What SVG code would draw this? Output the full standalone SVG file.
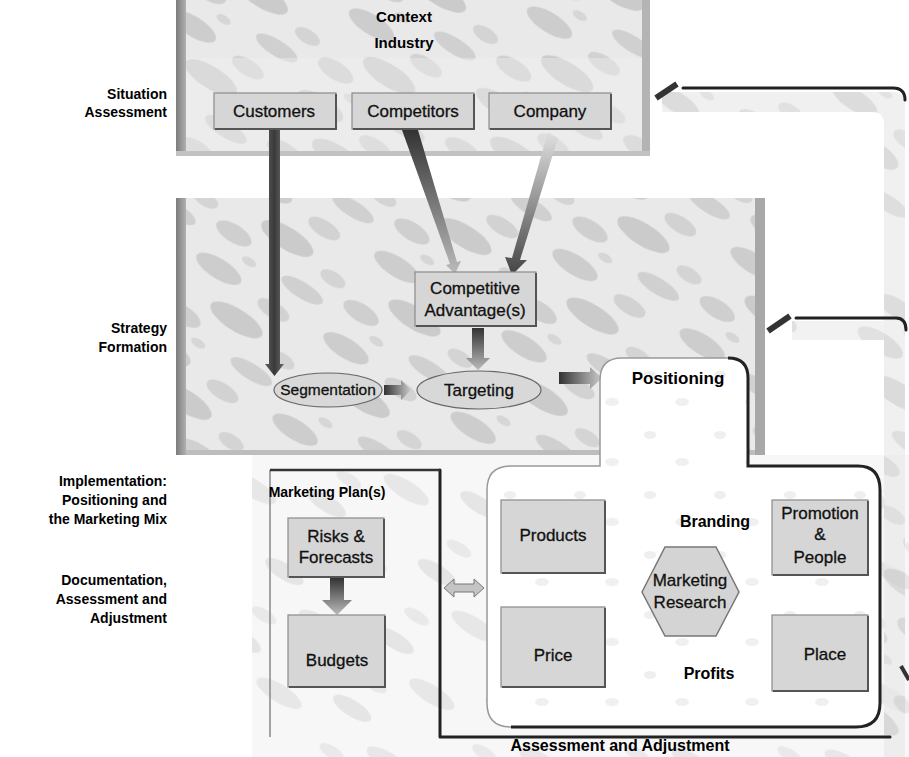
<svg xmlns="http://www.w3.org/2000/svg" width="909" height="757" viewBox="0 0 909 757">
  <defs>
    <!-- mottled halftone-like fill used for the stage panels -->
    <pattern id="mottle" width="150" height="96" patternUnits="userSpaceOnUse" patternTransform="rotate(32)">
      <rect width="150" height="96" fill="#e9e9e9"/>
      <ellipse cx="28" cy="16" rx="26" ry="10" fill="#cdcdcd"/>
      <ellipse cx="96" cy="22" rx="18" ry="8" fill="#d2d2d2"/>
      <ellipse cx="70" cy="50" rx="30" ry="11" fill="#cbcbcb"/>
      <ellipse cx="130" cy="60" rx="14" ry="7" fill="#d4d4d4"/>
      <ellipse cx="22" cy="74" rx="20" ry="9" fill="#cfcfcf"/>
      <ellipse cx="110" cy="86" rx="24" ry="8" fill="#d0d0d0"/>
      <ellipse cx="50" cy="90" rx="8" ry="4" fill="#d6d6d6"/>
    </pattern>
    <pattern id="faint" width="130" height="80" patternUnits="userSpaceOnUse" patternTransform="rotate(32)">
      <rect width="130" height="80" fill="#f7f7f7"/>
      <ellipse cx="24" cy="14" rx="22" ry="8" fill="#e5e5e5"/>
      <ellipse cx="84" cy="40" rx="26" ry="9" fill="#e7e7e7"/>
      <ellipse cx="30" cy="62" rx="14" ry="6" fill="#e9e9e9"/>
    </pattern>
    <pattern id="speck" width="70" height="60" patternUnits="userSpaceOnUse">
      <rect width="70" height="60" fill="#ffffff"/>
      <ellipse cx="20" cy="15" rx="6" ry="4" fill="#efefef"/>
      <ellipse cx="52" cy="42" rx="7" ry="4" fill="#f0f0f0"/>
    </pattern>
    <linearGradient id="shaftV" x1="0" y1="0" x2="1" y2="0">
      <stop offset="0" stop-color="#5a5a5a"/>
      <stop offset="0.5" stop-color="#3a3a3a"/>
      <stop offset="1" stop-color="#6a6a6a"/>
    </linearGradient>
    <linearGradient id="shaftDown" x1="0" y1="0" x2="0" y2="1">
      <stop offset="0" stop-color="#333"/>
      <stop offset="1" stop-color="#bbb"/>
    </linearGradient>
    <linearGradient id="shaftUp" x1="0" y1="0" x2="0" y2="1">
      <stop offset="0" stop-color="#e0e0e0"/>
      <stop offset="1" stop-color="#444"/>
    </linearGradient>
    <linearGradient id="shaftH" x1="0" y1="0" x2="1" y2="0">
      <stop offset="0" stop-color="#333"/>
      <stop offset="1" stop-color="#ccc"/>
    </linearGradient>
    <linearGradient id="edgeL" x1="0" y1="0" x2="1" y2="0">
      <stop offset="0" stop-color="#7c7c7c"/>
      <stop offset="1" stop-color="#b0b0b0"/>
    </linearGradient>
    <style>
      .lbl { font-family: "Liberation Sans", Arial, sans-serif; font-weight: bold; font-size: 14px; fill: #000; text-anchor: end; }
      .hd { font-family: "Liberation Sans", Arial, sans-serif; font-weight: bold; font-size: 15px; fill: #000; text-anchor: middle; }
      .nt { font-family: "Liberation Sans", Arial, sans-serif; font-size: 17px; fill: #111; stroke: #111; stroke-width: 0.3; text-anchor: middle; }
      .box { fill: #d6d6d6; stroke: #8a8a8a; stroke-width: 1.2; }
      .boxsh { fill: none; stroke: #555; stroke-width: 2; }
      .oval { fill: #d8d8d8; stroke: #666; stroke-width: 1.2; }
      .thin { fill: none; stroke: #222; stroke-width: 3; stroke-linecap: round; stroke-linejoin: round; }
    </style>
  </defs>

  <rect width="909" height="757" fill="#ffffff"/>

  <!-- lower backdrop behind the implementation area -->
  <rect x="252" y="455" width="657" height="302" fill="url(#faint)"/>

  <!-- right-hand feedback channel -->
  <g id="feedback-channel">
    <path d="M662 92 H893 Q905 92 905 104 V757 H884 V124 Q884 112 872 112 H662 Z" fill="url(#mottle)" opacity="0.7"/>
    <path d="M792 321 H884 V340 H792 Z" fill="url(#mottle)" opacity="0.6"/>
  </g>

  <!-- Situation assessment panel -->
  <g id="situation-panel">
    <rect x="176" y="0" width="474" height="156" fill="url(#mottle)"/>
    <rect x="176" y="0" width="10" height="156" fill="url(#edgeL)"/>
    <rect x="642" y="0" width="8" height="156" fill="#b4b4b4"/>
    <rect x="176" y="151" width="474" height="5" fill="#c2c2c2"/>
    <rect x="186" y="58" width="456" height="93" fill="#efefef" opacity="0.4"/>
    <text class="hd" x="404" y="22">Context</text>
    <text class="hd" x="404" y="48">Industry</text>
  </g>

  <!-- Strategy formation panel -->
  <g id="strategy-panel">
    <rect x="176" y="198" width="589" height="257" fill="url(#mottle)"/>
    <rect x="176" y="198" width="10" height="257" fill="url(#edgeL)"/>
    <rect x="755" y="198" width="10" height="257" fill="#a8a8a8"/>
    <rect x="186" y="450" width="569" height="5" fill="#bdbdbd"/>
  </g>

  <!-- Stage labels -->
  <g id="stage-labels">
    <text class="lbl" x="167" y="99">Situation</text>
    <text class="lbl" x="167" y="117">Assessment</text>
    <text class="lbl" x="167" y="333">Strategy</text>
    <text class="lbl" x="167" y="352">Formation</text>
    <text class="lbl" x="167" y="486">Implementation:</text>
    <text class="lbl" x="167" y="505">Positioning and</text>
    <text class="lbl" x="167" y="524">the Marketing Mix</text>
    <text class="lbl" x="167" y="585">Documentation,</text>
    <text class="lbl" x="167" y="604">Assessment and</text>
    <text class="lbl" x="167" y="623">Adjustment</text>
  </g>

  <!-- Context nodes -->
  <g id="customers">
    <rect class="box" x="214" y="93" width="122" height="36"/>
    <path class="boxsh" d="M336 94 V129 H215"/>
    <text class="nt" x="274" y="117">Customers</text>
  </g>
  <g id="competitors">
    <rect class="box" x="352" y="93" width="122" height="36"/>
    <path class="boxsh" d="M474 94 V129 H353"/>
    <text class="nt" x="413" y="117">Competitors</text>
  </g>
  <g id="company">
    <rect class="box" x="489" y="93" width="122" height="36"/>
    <path class="boxsh" d="M611 94 V129 H490"/>
    <text class="nt" x="550" y="117">Company</text>
  </g>

  <!-- Flow arrows -->
  <g id="connectors">
    <!-- Customers to Segmentation -->
    <path d="M269 130 H280 V364 L284 364 L274.5 376 L265 364 L269 364 Z" fill="url(#shaftV)"/>
    <!-- Competitors to Competitive Advantage(s) -->
    <path d="M402 130 L418 130 L457 262 L461 261 L455 274 L446 265 L450 264 Z" fill="url(#shaftDown)"/>
    <!-- Company to Competitive Advantage(s) -->
    <path d="M548 132 L558 138 L520 260 L527 260 L512 275 L505 257 L512 258 Z" fill="url(#shaftUp)"/>
    <!-- Competitive Advantage(s) to Targeting -->
    <path d="M472 328 H484 V358 H490 L478 370 L466 358 H472 Z" fill="url(#shaftDown)"/>
    <!-- Segmentation to Targeting -->
    <path d="M384 385 H401 V380 L411 390 L401 400 V395 H384 Z" fill="url(#shaftH)"/>
    <!-- Targeting to Positioning -->
    <path d="M559 372 H590 V367 L602 378 L590 389 V384 H559 Z" fill="url(#shaftH)"/>
    <!-- Risks & Forecasts to Budgets -->
    <path d="M330 578 H344 V600 H352 L337 615 L322 600 H330 Z" fill="url(#shaftDown)"/>
    <!-- Marketing plan to marketing mix (two-way) -->
    <path d="M444 588 L454 579 V584 H474 V579 L484 588 L474 597 V592 H454 V597 Z" fill="#c4c4c4" stroke="#777" stroke-width="1"/>
    <!-- feedback lines -->
    <line x1="656" y1="98" x2="677" y2="84" stroke="#333" stroke-width="6"/>
    <path class="thin" d="M683 88 H893 Q905 88 905 100"/>
    <line x1="768" y1="331" x2="790" y2="316" stroke="#333" stroke-width="6"/>
    <path class="thin" d="M796 318 H896 Q906 318 906 330"/>
    <line x1="901" y1="666" x2="909" y2="680" stroke="#333" stroke-width="4"/>
    <!-- assessment and adjustment rule -->
    <path class="thin" d="M440 470 V737 H890"/>
  </g>

  <!-- Competitive advantage -->
  <g id="competitive-advantage">
    <rect class="box" x="415" y="272" width="121" height="54" fill="#d9d9d9"/>
    <path class="boxsh" d="M536 273 V326 H416"/>
    <text class="nt" x="475" y="294">Competitive</text>
    <text class="nt" x="475" y="316">Advantage(s)</text>
  </g>

  <g id="segmentation">
    <ellipse class="oval" cx="328" cy="390" rx="54" ry="17"/>
    <text class="nt" x="328" y="395" style="font-size:15.5px">Segmentation</text>
  </g>
  <g id="targeting">
    <ellipse class="oval" cx="479" cy="390" rx="62" ry="19"/>
    <text class="nt" x="479" y="396">Targeting</text>
  </g>

  <!-- Positioning and the marketing mix -->
  <g id="positioning">
    <path d="M600 380 Q600 358 622 358 H728 Q748 358 748 378 V466 H858 Q880 466 880 490 V703 Q880 727 856 727 H511 Q487 727 487 703 V490 Q487 466 511 466 H600 Z" fill="url(#speck)" stroke="#999" stroke-width="1.5"/>
    <path d="M728 358 Q748 358 748 378 V466 H858 Q880 466 880 490 V703 Q880 727 856 727 H511" fill="none" stroke="#222" stroke-width="3"/>
    <text class="hd" x="678" y="384" style="font-size:17px">Positioning</text>
    <text class="hd" x="715" y="527" style="font-size:16px">Branding</text>
    <text class="hd" x="709" y="679" style="font-size:16px">Profits</text>
  </g>
  <g id="products">
    <rect class="box" x="501" y="500" width="104" height="73"/>
    <path class="boxsh" d="M605 501 V573 H502"/>
    <text class="nt" x="553" y="541">Products</text>
  </g>
  <g id="price">
    <rect class="box" x="501" y="607" width="104" height="80"/>
    <path class="boxsh" d="M605 608 V687 H502"/>
    <text class="nt" x="553" y="661">Price</text>
  </g>
  <g id="promotion-people">
    <rect class="box" x="772" y="500" width="96" height="75"/>
    <path class="boxsh" d="M868 501 V575 H773"/>
    <text class="nt" x="820" y="519">Promotion</text>
    <text class="nt" x="820" y="540">&amp;</text>
    <text class="nt" x="820" y="563">People</text>
  </g>
  <g id="place">
    <rect class="box" x="772" y="615" width="96" height="76"/>
    <path class="boxsh" d="M868 616 V691 H773"/>
    <text class="nt" x="825" y="660">Place</text>
  </g>
  <g id="marketing-research">
    <polygon points="642,592 665,547 716,547 739,592 716,636 665,636" fill="#d4d4d4" stroke="#777" stroke-width="1.5"/>
    <text class="nt" x="690" y="586">Marketing</text>
    <text class="nt" x="690" y="608">Research</text>
  </g>

  <!-- Marketing plan -->
  <g id="marketing-plan">
    <path d="M270 737 V470" fill="none" stroke="#888" stroke-width="1.5"/>
    <path d="M270 470 H440" fill="none" stroke="#333" stroke-width="2.5"/>
    <text class="hd" x="327" y="497" style="font-size:14px">Marketing Plan(s)</text>
  </g>
  <g id="risks-forecasts">
    <rect class="box" x="288" y="518" width="96" height="59"/>
    <path class="boxsh" d="M384 519 V577 H289"/>
    <text class="nt" x="336" y="542">Risks &amp;</text>
    <text class="nt" x="336" y="563">Forecasts</text>
  </g>
  <g id="budgets">
    <rect class="box" x="288" y="615" width="97" height="72"/>
    <path class="boxsh" d="M385 616 V687 H289"/>
    <text class="nt" x="337" y="666">Budgets</text>
  </g>

  <text class="hd" x="620" y="751" style="font-size:16px">Assessment and Adjustment</text>
</svg>
